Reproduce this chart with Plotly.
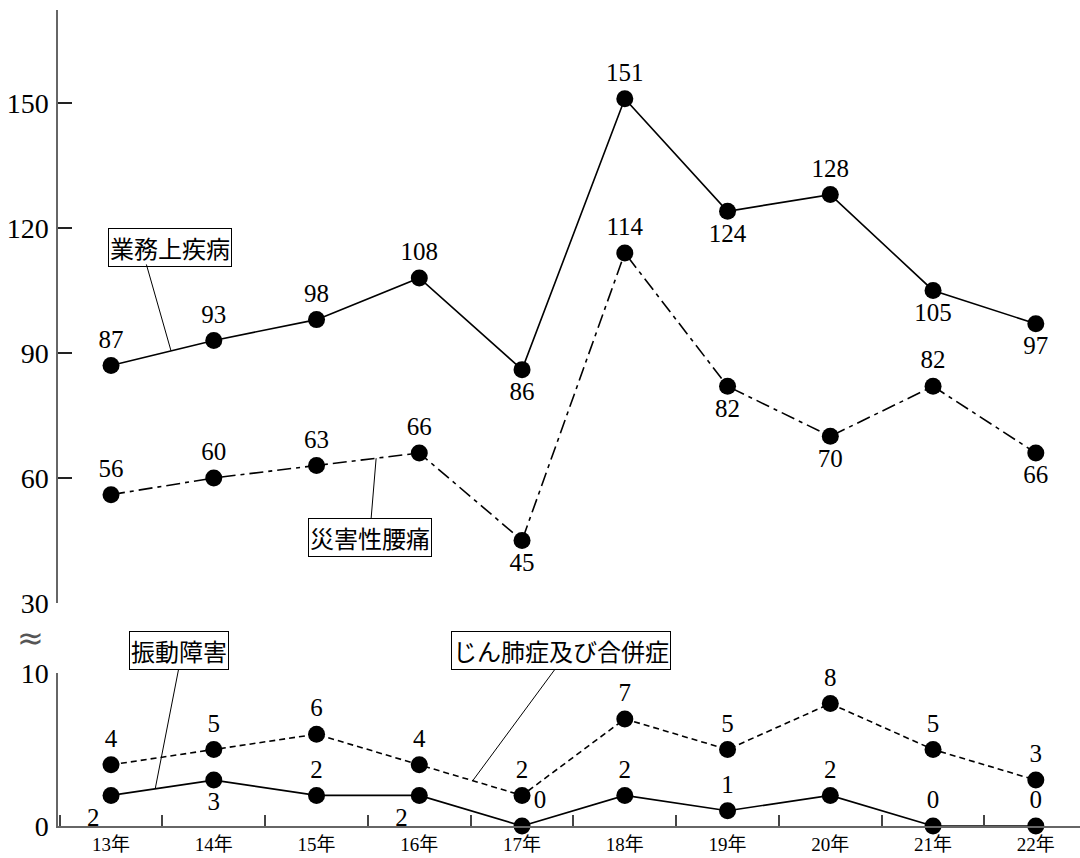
import numpy as np
import plotly.graph_objects as go

years = ["13年", "14年", "15年", "16年", "17年", "18年", "19年", "20年", "21年", "22年"]
gyomu = [87, 93, 98, 108, 86, 151, 124, 128, 105, 97]          # 業務上疾病
yotsu = [56, 60, 63, 66, 45, 114, 82, 70, 82, 66]               # 災害性腰痛
jinpai = [4, 5, 6, 4, 2, 7, 5, 8, 5, 3]                         # じん肺症及び合併症
shindo = [2, 3, 2, 2, 0, 2, 1, 2, 0, 0]                         # 振動障害

upper_ticks = [30, 60, 90, 120, 150]
lower_ticks = [0, 10]

pos_gyomu = ["top center", "top center", "top center", "top center", "bottom center",
             "top center", "bottom center", "top center", "bottom center", "bottom center"]
pos_yotsu = ["top center", "top center", "top center", "top center", "bottom center",
             "top center", "bottom center", "bottom center", "top center", "bottom center"]
pos_jinpai = ["top center"] * 10
pos_shindo = ["bottom left", "bottom center", "top center", "bottom left", "top right",
              "top center", "top center", "top center", "top center", "top center"]

FONT = "Liberation Serif, Noto Sans CJK JP, serif"
CJK = "Noto Sans CJK JP, sans-serif"
LABEL_FONT = dict(family=FONT, size=25, color="black")

UP_RANGE = [30, 172.3]
LO_RANGE = [0, 10]
UP_DOM = [0.2733, 1.0]
LO_DOM = [0.0, 0.1875]

fig = go.Figure()


def add_series(vals, yaxis, dash, positions):
    fig.add_trace(go.Scatter(
        x=years, y=vals, yaxis=yaxis, xaxis="x",
        mode="lines+markers+text",
        line=dict(color="black", width=1.6, dash=dash),
        marker=dict(color="black", size=17),
        text=[str(v) for v in vals], textposition=positions,
        textfont=LABEL_FONT, cliponaxis=False, showlegend=False,
    ))


add_series(gyomu, "y", "solid", pos_gyomu)
add_series(yotsu, "y", "14px,5px,4px,5px", pos_yotsu)
add_series(jinpai, "y2", "6px,4px", pos_jinpai)
add_series(shindo, "y2", "solid", pos_shindo)

idx = np.arange(len(years))


def on_line(xpos, vals):
    return float(np.interp(xpos, idx, vals))


def lower_paper(v):
    return LO_DOM[0] + (v - LO_RANGE[0]) / (LO_RANGE[1] - LO_RANGE[0]) * (LO_DOM[1] - LO_DOM[0])


boxes = [
    ("業務上疾病", 0.574, 115.4, "y"),
    ("災害性腰痛", 2.52, 45.8, "y"),
    ("振動障害", 0.66, lower_paper(11.44), "paper"),
    ("じん肺症及び合併症", 4.38, lower_paper(11.44), "paper"),
]
for txt, bx, by, yr in boxes:
    fig.add_annotation(x=bx, y=by, xref="x", yref=yr, text=txt, showarrow=False,
                       xanchor="center", yanchor="middle",
                       font=dict(family=CJK, size=24, color="black"),
                       bordercolor="black", borderwidth=1, borderpad=1, bgcolor="white")

leaders = [
    (0.34, 111.6, 0.584, gyomu, "y"),
    (2.53, 49.9, 2.58, yotsu, "y"),
    (0.66, 10.33, 0.43, shindo, "y2"),
    (4.33, 10.33, 3.52, jinpai, "y2"),
]
for tx, ty, hx, vals, yr in leaders:
    fig.add_annotation(x=hx, y=on_line(hx, vals), xref="x", yref=yr,
                       ax=tx, ay=ty, axref="x", ayref=yr, text="",
                       showarrow=True, arrowhead=0, arrowwidth=1, arrowcolor="black",
                       standoff=0, startstandoff=0)

fig.add_annotation(x=-0.027, y=0.23, xref="paper", yref="paper", text="≈",
                   xanchor="center", yanchor="middle",
                   showarrow=False, font=dict(family="DejaVu Sans", size=32, color="#555"))

axis_common = dict(showline=True, linecolor="#666", linewidth=1.5, ticks="inside",
                   tickcolor="#222", tickwidth=1.5, showgrid=False, zeroline=False,
                   ticklabelstandoff=2, automargin=False,
                   tickfont=dict(family=FONT, size=28, color="black"))

fig.update_layout(
    width=1080, height=858,
    margin=dict(l=58, r=0, t=10, b=32, autoexpand=False),
    paper_bgcolor="white", plot_bgcolor="white",
    font=dict(family=FONT, color="black"),
    xaxis=dict(type="category", anchor="y2", range=[-0.516, 9.43],
               showline=True, linecolor="#666", linewidth=1.5,
               ticks="inside", tickson="boundaries", ticklen=11, tickcolor="#444",
               tickwidth=1.5, showgrid=False, zeroline=False, automargin=False,
               tickfont=dict(family=FONT, size=19, color="black")),
    yaxis=dict(domain=UP_DOM, range=UP_RANGE, tickvals=upper_ticks,
               ticklen=14, anchor="x", **axis_common),
    yaxis2=dict(domain=LO_DOM, range=LO_RANGE, tickvals=lower_ticks,
                ticklen=14, anchor="x", **axis_common),
)

fig.write_html("out.html", config={"displayModeBar": False},
               post_script="document.body.style.margin='0';document.body.style.overflow='hidden';")
